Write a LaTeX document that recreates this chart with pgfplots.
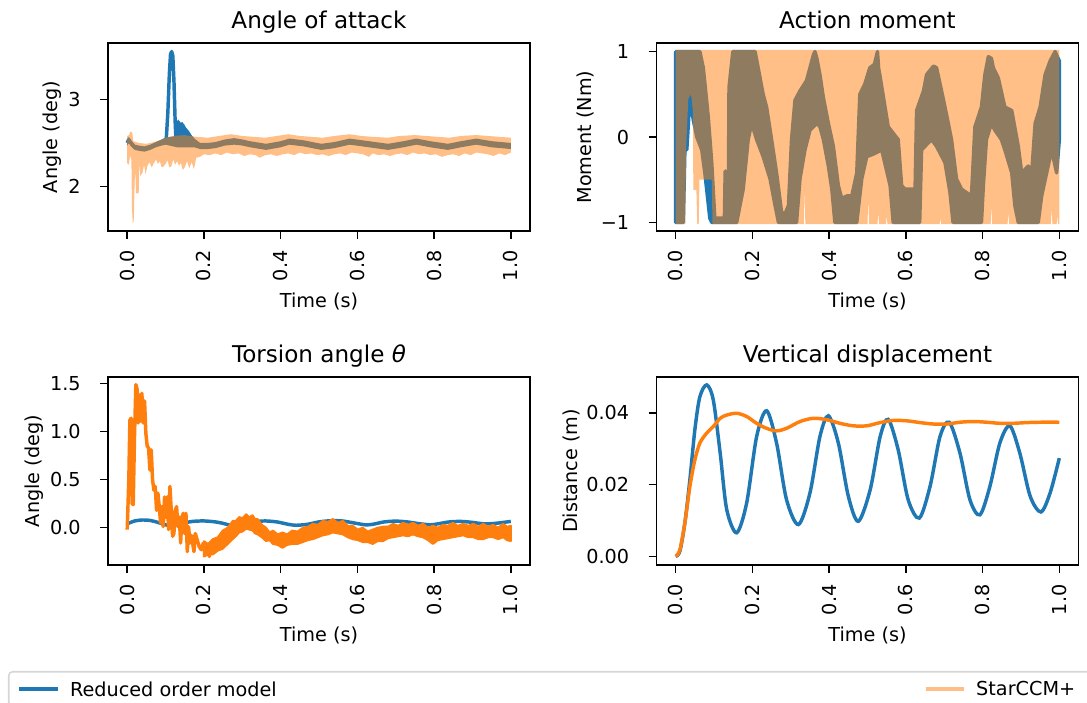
\documentclass[border=0pt]{standalone}
\usepackage{fontspec}
\setmainfont{DejaVu Sans}
\usepackage{pgfplots}
\pgfplotsset{compat=1.18}
\definecolor{mplblue}{RGB}{31,119,180}
\definecolor{mplorange}{RGB}{255,127,14}
\definecolor{legframe}{RGB}{214,214,214}
\pgfplotsset{
  myax/.style={
    scale only axis, width=219.44pt, height=97.76pt,
    anchor=north west,
    xmin=-0.05, xmax=1.05,
    xtick={0,0.2,0.4,0.6,0.8,1.0},
    xticklabels={0.0,0.2,0.4,0.6,0.8,1.0},
    scaled x ticks=false, scaled y ticks=false,
    tick align=outside, tick pos=left,
    major tick length=4pt,
    tick style={black, line width=0.8pt},
    axis line style={line width=0.8pt},
    xticklabel shift=6pt, yticklabel shift=10pt,
    xticklabel style={rotate=90, anchor=east, inner sep=0pt, font=\fontsize{10}{12}\selectfont},
    yticklabel style={anchor=east, inner sep=0pt, font=\fontsize{10}{12}\selectfont},
    title style={at={(0.5,1)}, anchor=base, yshift=1.3pt, font=\fontsize{12}{14}\selectfont},
    xlabel style={at={(axis description cs:0.5,0)}, anchor=base, yshift=-40pt, font=\fontsize{10}{12}\selectfont},
    ylabel style={font=\fontsize{10}{12}\selectfont},
    xlabel={Time (s)},
  }
}
\begin{document}
\begin{tikzpicture}
\useasboundingbox (0,0) rectangle (565.24pt,-365.04pt);
% ---------------- Angle of attack ----------------
\begin{axis}[myax, at={(56.16pt,-22.36pt)},
  ymin=1.488, ymax=3.648, ytick={2,3}, yticklabels={2,3},
  title={Angle of attack}, ylabel={Angle (deg)},
  legend columns=2,
  legend image code/.code={\draw[#1] (0pt,0pt) -- (20pt,0pt);},
  legend cell align=left,
  legend style={at={(-0.23697,-2.3402)}, anchor=north west, draw=legframe, line width=0.8pt,
    fill=white, rounded corners=2pt, inner xsep=4.68pt, inner ysep=5.1pt,
    font=\fontsize{10}{12}\selectfont, nodes={inner sep=0pt, text depth=0pt},
    /tikz/every odd column/.append style={column sep=5.4pt}}]
\addplot[forget plot, draw=none, fill=mplblue] coordinates {
(0,2.53) (0.004,2.57) (0.010,2.53) (0.020,2.48) (0.030,2.47) (0.045,2.46) (0.060,2.48) (0.075,2.51) (0.090,2.54) (0.100,2.56) (0.127,2.58) (0.129,2.73) (0.133,2.77) (0.138,2.73) (0.144,2.74) (0.150,2.69) (0.158,2.65) (0.165,2.60) (0.175,2.55) (0.190,2.50) (0.210,2.50) (0.230,2.51) (0.255,2.54) (0.279,2.555) (0.300,2.54) (0.320,2.52) (0.362,2.49) (0.400,2.52) (0.423,2.55) (0.460,2.53) (0.506,2.49) (0.540,2.51) (0.580,2.55) (0.630,2.52) (0.680,2.49) (0.720,2.52) (0.754,2.55) (0.790,2.52) (0.836,2.49) (0.870,2.52) (0.910,2.55) (0.950,2.52) (1.000,2.50)
(1.000,2.43) (0.950,2.45) (0.910,2.48) (0.870,2.45) (0.836,2.42) (0.790,2.45) (0.754,2.48) (0.720,2.45) (0.680,2.42) (0.630,2.45) (0.580,2.48) (0.540,2.44) (0.506,2.42) (0.460,2.46) (0.423,2.48) (0.400,2.45) (0.362,2.42) (0.320,2.45) (0.300,2.47) (0.279,2.48) (0.255,2.47) (0.230,2.44) (0.210,2.43) (0.190,2.43) (0.175,2.45) (0.150,2.45) (0.130,2.45) (0.100,2.48) (0.090,2.47) (0.075,2.45) (0.060,2.42) (0.045,2.40) (0.030,2.41) (0.020,2.42) (0.010,2.46) (0.004,2.50) (0,2.47)
} -- cycle;
\addplot[forget plot, mplblue, line width=1.8pt, line join=round] coordinates {
(0,2.50) (0.004,2.54) (0.010,2.50) (0.020,2.45) (0.030,2.44) (0.045,2.43) (0.060,2.45) (0.075,2.48) (0.090,2.51) (0.097,2.53) (0.102,2.55) (0.106,2.85) (0.110,3.30) (0.113,3.52) (0.116,3.55) (0.119,3.50) (0.122,3.20) (0.125,2.75) (0.127,2.55) (0.129,2.70) (0.133,2.74) (0.138,2.70) (0.144,2.71) (0.150,2.66) (0.158,2.62) (0.165,2.57) (0.175,2.52) (0.190,2.47) (0.210,2.47) (0.230,2.48) (0.255,2.51) (0.279,2.52) (0.300,2.51) (0.320,2.49) (0.362,2.46) (0.400,2.49) (0.423,2.52) (0.460,2.50) (0.506,2.46) (0.540,2.48) (0.580,2.52) (0.630,2.49) (0.680,2.46) (0.720,2.49) (0.754,2.52) (0.790,2.49) (0.836,2.46) (0.870,2.49) (0.910,2.52) (0.950,2.49) (1.000,2.47)
};
\addplot[forget plot, draw=none, fill=mplorange, fill opacity=0.5] coordinates {
(0,2.58) (0.005,2.59) (0.008,2.63) (0.013,2.62) (0.016,2.52) (0.030,2.50) (0.050,2.49) (0.070,2.51) (0.090,2.54) (0.100,2.56) (0.120,2.58) (0.150,2.59) (0.180,2.57) (0.210,2.56) (0.240,2.58) (0.270,2.60) (0.300,2.58) (0.330,2.57) (0.360,2.56) (0.390,2.58) (0.420,2.60) (0.450,2.58) (0.480,2.57) (0.510,2.56) (0.540,2.58) (0.580,2.60) (0.610,2.58) (0.640,2.57) (0.680,2.56) (0.710,2.58) (0.750,2.59) (0.780,2.58) (0.810,2.57) (0.840,2.56) (0.870,2.58) (0.910,2.59) (0.940,2.58) (0.970,2.57) (1.000,2.56)
(1.000,2.39) (0.985,2.36) (0.970,2.38) (0.955,2.35) (0.940,2.37) (0.925,2.38) (0.910,2.39) (0.895,2.36) (0.880,2.38) (0.865,2.35) (0.850,2.37) (0.835,2.36) (0.820,2.34) (0.805,2.37) (0.790,2.36) (0.775,2.38) (0.760,2.37) (0.745,2.39) (0.730,2.36) (0.715,2.38) (0.700,2.37) (0.685,2.35) (0.670,2.37) (0.655,2.36) (0.640,2.38) (0.630,2.34) (0.615,2.37) (0.600,2.38) (0.585,2.39) (0.570,2.36) (0.555,2.38) (0.540,2.37) (0.525,2.35) (0.510,2.37) (0.495,2.36) (0.480,2.38) (0.465,2.37) (0.450,2.39) (0.435,2.36) (0.420,2.38) (0.405,2.37) (0.390,2.35) (0.375,2.37) (0.360,2.36) (0.345,2.33) (0.335,2.36) (0.320,2.37) (0.305,2.35) (0.290,2.38) (0.275,2.37) (0.260,2.39) (0.245,2.36) (0.230,2.38) (0.215,2.36) (0.200,2.37) (0.190,2.34) (0.180,2.33) (0.174,2.20) (0.168,2.28) (0.162,2.21) (0.156,2.29) (0.150,2.22) (0.145,2.19) (0.140,2.27) (0.135,2.24) (0.130,2.29) (0.125,2.25) (0.120,2.31) (0.115,2.23) (0.110,2.22) (0.105,2.30) (0.100,2.26) (0.095,2.23) (0.090,2.22) (0.085,2.29) (0.080,2.26) (0.075,2.31) (0.070,2.27) (0.064,2.22) (0.058,2.28) (0.053,2.24) (0.048,2.14) (0.044,2.25) (0.040,2.16) (0.034,2.12) (0.032,2.30) (0.030,1.92) (0.023,1.92) (0.021,2.20) (0.0195,2.05) (0.017,1.60) (0.0145,1.58) (0.0125,1.75) (0.011,2.30) (0.008,2.36) (0.004,2.25) (0,2.27)
} -- cycle;
\addlegendimage{mplblue, line width=1.8pt}
\addlegendentry{\makebox[444pt][l]{Reduced order model}}
\addlegendimage{mplorange, opacity=0.5, line width=1.8pt}
\addlegendentry{\makebox[62pt][l]{StarCCM+}}
\end{axis}
% ---------------- Action moment ----------------
\begin{axis}[myax, at={(341.38pt,-22.36pt)},
  ymin=-1.1, ymax=1.1, ytick={-1,0,1}, yticklabels={−1,0,1},
  title={Action moment}, ylabel={Moment (Nm)}]
\addplot[draw=mplblue, fill=mplblue, line width=1.8pt, line join=round] coordinates {
(0,1.0) (0.063,1.0) (0.072,0.81) (0.085,0.23) (0.094,-0.30) (0.102,-0.95) (0.118,-0.95) (0.127,-0.95) (0.129,-0.40) (0.131,-0.40) (0.133,-0.95) (0.137,-0.95) (0.139,0.58) (0.149,1.0) (0.207,1.0) (0.215,0.81) (0.228,0.50) (0.237,0.35) (0.250,-0.03) (0.263,-0.42) (0.276,-0.88) (0.285,-0.90) (0.294,-0.80) (0.302,-0.03) (0.311,0.43) (0.324,0.54) (0.341,0.66) (0.359,0.96) (0.363,1.0) (0.368,0.92) (0.376,0.73) (0.385,0.46) (0.398,0.16) (0.411,-0.11) (0.424,-0.57) (0.433,-0.72) (0.446,-0.69) (0.459,-0.69) (0.472,-0.42) (0.480,0.50) (0.493,0.62) (0.506,0.81) (0.518,0.85) (0.526,1.0) (0.529,0.80) (0.532,0.73) (0.554,0.12) (0.580,-0.03) (0.589,-0.57) (0.598,-0.61) (0.624,-0.61) (0.628,0.31) (0.646,0.54) (0.654,0.73) (0.672,0.83) (0.680,0.81) (0.693,0.54) (0.702,0.35) (0.719,-0.03) (0.732,-0.49) (0.745,-0.61) (0.771,-0.69) (0.780,0.12) (0.797,0.35) (0.806,0.73) (0.815,0.94) (0.823,0.92) (0.828,0.81) (0.841,0.69) (0.858,0.35) (0.876,0.31) (0.893,-0.11) (0.902,-0.42) (0.919,-0.34) (0.928,-0.42) (0.937,0.16) (0.950,0.35) (0.963,0.73) (0.976,0.89) (0.989,1.0) (1.0,0.89)
(1.0,-0.03) (0.993,-0.42) (0.980,-0.15) (0.967,-0.42) (0.954,-0.69) (0.945,-1) (0.893,-1) (0.884,-0.80) (0.876,-0.42) (0.858,-0.15) (0.849,-0.03) (0.832,0.08) (0.823,0.16) (0.810,-0.03) (0.802,-0.57) (0.797,-1) (0.723,-1) (0.715,-0.65) (0.702,-0.30) (0.680,-0.11) (0.667,-0.03) (0.641,-0.15) (0.636,-1) (0.567,-1) (0.559,-0.57) (0.537,-0.15) (0.515,-0.20) (0.498,-0.23) (0.485,-0.49) (0.472,-1) (0.415,-1) (0.407,-0.61) (0.398,-0.34) (0.385,-0.03) (0.376,0.12) (0.368,0.16) (0.350,0.08) (0.337,-0.15) (0.324,-0.49) (0.315,-1) (0.268,-1) (0.259,-0.80) (0.246,-0.49) (0.228,-0.23) (0.211,-0.03) (0.198,0.16) (0.189,-0.03) (0.176,-0.61) (0.159,-1) (0.094,-1) (0.089,-0.95) (0.076,-0.42) (0.068,-0.15) (0.055,0.0) (0.046,0.2) (0.037,0.45) (0.029,-0.15) (0.024,-0.15) (0.020,-1) (0,-1)
} -- cycle;
\addplot[draw=none, fill=mplorange, fill opacity=0.5] coordinates {
(0,1.02) (1.0,1.02)
(1.0,-1.02) (0.997,-1.02) (0.995,-0.92) (0.993,-1.02) (0.982,-1.02) (0.980,-0.83) (0.978,-1.02) (0.869,-1.02) (0.867,-0.88) (0.865,-1.02) (0.825,-1.02) (0.823,-0.80) (0.821,-1.02) (0.692,-1.02) (0.690,-0.95) (0.688,-1.02) (0.552,-1.02) (0.550,-0.92) (0.548,-1.02) (0.530,-1.02) (0.528,-0.88) (0.526,-1.02) (0.504,-1.02) (0.502,-0.70) (0.500,-1.02) (0.338,-1.02) (0.336,-0.60) (0.334,-1.02) (0.096,-1.02) (0.094,-0.50) (0.062,-0.50) (0.060,-1.02) (0.056,-1.02) (0.054,-0.62) (0.046,-0.62) (0.045,0.30) (0.040,0.50) (0.033,0.45) (0.027,-0.15) (0.025,-1.02) (0,-1.02)
} -- cycle;
\end{axis}
% ---------------- Torsion angle ----------------
\begin{axis}[myax, at={(56.16pt,-196.04pt)},
  ymin=-0.389, ymax=1.569, ytick={0,0.5,1,1.5}, yticklabels={0.0,0.5,1.0,1.5},
  title={Torsion angle {\itshape θ}}, ylabel={Angle (deg)}]
\addplot[mplblue, line width=1.8pt, smooth] coordinates {
(0,0.04) (0.02,0.07) (0.04,0.08) (0.06,0.075) (0.08,0.055) (0.10,0.03) (0.115,0.02) (0.13,0.03) (0.15,0.05) (0.17,0.065) (0.20,0.07) (0.23,0.06) (0.25,0.045) (0.27,0.025) (0.29,0.03) (0.31,0.05) (0.34,0.065) (0.36,0.07) (0.39,0.06) (0.42,0.035) (0.44,0.025) (0.47,0.035) (0.50,0.06) (0.53,0.072) (0.56,0.07) (0.59,0.05) (0.62,0.03) (0.64,0.035) (0.67,0.06) (0.70,0.068) (0.73,0.06) (0.76,0.042) (0.79,0.03) (0.81,0.04) (0.84,0.06) (0.87,0.065) (0.90,0.055) (0.93,0.04) (0.96,0.045) (1.0,0.065)
};
\addplot[mplorange, line width=1.8pt, line join=round] coordinates {
(0,-0.02) (0.0017,0.18) (0.0044,0.53) (0.007,1.12) (0.0104,1.14) (0.013,0.25) (0.0157,0.24) (0.0191,0.95) (0.0226,1.49) (0.0261,1.44) (0.0287,1.09) (0.0322,1.38) (0.0348,1.11) (0.0383,1.40) (0.0418,1.09) (0.0453,1.32) (0.0487,0.98) (0.0522,0.85) (0.0557,0.83) (0.0592,0.60) (0.0627,0.81) (0.0661,0.50) (0.0696,0.39) (0.0731,0.43) (0.0766,0.18) (0.0801,0.36) (0.0836,0.22) (0.0870,0.05) (0.0905,0.22) (0.0940,0.01) (0.0975,0.32) (0.1010,0.11) (0.1044,0.32) (0.1079,-0.02) (0.1114,0.43) (0.1149,0.18) (0.1184,-0.09) (0.1218,-0.06) (0.1253,0.18) (0.1288,0.22) (0.1323,0.01) (0.1358,0.11) (0.1393,-0.16) (0.1427,0.11) (0.1462,0.15) (0.1497,-0.06) (0.1532,0.15) (0.1567,-0.25) (0.1601,0.01) (0.1636,-0.16) (0.1671,-0.08) (0.1706,-0.16) (0.1741,-0.25) (0.1775,-0.06) (0.1828,-0.13) (0.1880,-0.20) (0.1932,-0.23) (0.1984,-0.16) (0.2037,-0.29) (0.2089,-0.18) (0.2141,-0.30) (0.2193,-0.20) (0.2263,-0.23)
};
\addplot[draw=mplorange, fill=mplorange, line width=1pt, line join=round] coordinates {
(0.200,-0.14) (0.211,-0.17) (0.223,-0.12) (0.236,-0.10) (0.249,-0.03) (0.262,0.00) (0.275,0.07) (0.283,0.07) (0.292,0.11) (0.301,0.10) (0.310,0.14) (0.318,0.11) (0.327,0.13) (0.333,0.09) (0.340,0.09) (0.351,0.03) (0.362,0.00) (0.371,-0.05) (0.380,-0.03) (0.392,-0.07) (0.405,-0.05) (0.417,-0.07) (0.430,-0.03) (0.444,-0.04) (0.458,0.00) (0.471,0.01) (0.484,0.04) (0.497,0.03) (0.510,0.07) (0.523,0.06) (0.536,0.09) (0.549,0.05) (0.562,0.07) (0.575,0.02) (0.588,0.02) (0.601,-0.02) (0.614,0.00) (0.627,-0.04) (0.640,-0.02) (0.653,0.00) (0.667,0.01) (0.680,0.01) (0.693,0.04) (0.706,0.02) (0.719,0.05) (0.732,0.03) (0.745,0.05) (0.758,0.02) (0.771,0.04) (0.784,0.00) (0.797,0.02) (0.810,0.00) (0.823,0.03) (0.836,0.02) (0.849,0.05) (0.862,0.02) (0.876,0.04) (0.889,0.02) (0.902,0.04) (0.915,0.01) (0.928,0.04) (0.941,0.01) (0.954,0.03) (0.967,0.00) (0.980,0.04) (0.990,0.01) (1.000,0.02)
(1.000,-0.14) (0.990,-0.13) (0.980,-0.10) (0.967,-0.12) (0.954,-0.10) (0.941,-0.10) (0.928,-0.12) (0.915,-0.12) (0.902,-0.10) (0.889,-0.10) (0.876,-0.08) (0.862,-0.09) (0.849,-0.10) (0.836,-0.11) (0.823,-0.12) (0.810,-0.13) (0.797,-0.17) (0.784,-0.13) (0.771,-0.10) (0.758,-0.09) (0.745,-0.07) (0.732,-0.09) (0.719,-0.08) (0.706,-0.09) (0.693,-0.10) (0.680,-0.11) (0.667,-0.14) (0.653,-0.14) (0.640,-0.17) (0.627,-0.15) (0.614,-0.15) (0.601,-0.13) (0.588,-0.12) (0.575,-0.10) (0.562,-0.07) (0.549,-0.06) (0.536,-0.05) (0.523,-0.07) (0.510,-0.08) (0.497,-0.10) (0.484,-0.12) (0.471,-0.13) (0.458,-0.15) (0.444,-0.17) (0.430,-0.17) (0.417,-0.18) (0.405,-0.21) (0.392,-0.18) (0.380,-0.17) (0.371,-0.13) (0.362,-0.14) (0.351,-0.10) (0.340,-0.07) (0.333,-0.06) (0.327,-0.03) (0.318,-0.02) (0.310,-0.01) (0.301,-0.04) (0.292,-0.05) (0.283,-0.09) (0.275,-0.12) (0.262,-0.17) (0.249,-0.22) (0.236,-0.24) (0.223,-0.28) (0.211,-0.27) (0.200,-0.30)
} -- cycle;
\end{axis}
% ---------------- Vertical displacement ----------------
\begin{axis}[myax, at={(341.38pt,-196.04pt)},
  ymin=-0.00238, ymax=0.05, ytick={0,0.02,0.04}, yticklabels={0.00,0.02,0.04},
  title={Vertical displacement}, ylabel={Distance (m)}]
\addplot[mplblue, line width=1.8pt, smooth] coordinates {
(0,0) (0.011,0.0015) (0.024,0.0094) (0.037,0.0214) (0.050,0.0353) (0.063,0.0445) (0.081,0.0478) (0.098,0.0436) (0.116,0.0288) (0.133,0.0131) (0.159,0.0066) (0.185,0.0149) (0.211,0.0334) (0.237,0.0406) (0.263,0.0316) (0.289,0.0158) (0.320,0.0089) (0.350,0.0177) (0.376,0.0334) (0.398,0.0392) (0.424,0.0316) (0.450,0.0168) (0.476,0.0098) (0.507,0.0186) (0.533,0.0334) (0.554,0.0382) (0.580,0.0297) (0.606,0.0158) (0.635,0.0107) (0.663,0.0195) (0.689,0.0334) (0.713,0.0374) (0.741,0.0288) (0.767,0.0158) (0.793,0.0116) (0.819,0.0195) (0.845,0.0316) (0.871,0.0364) (0.897,0.0288) (0.924,0.0168) (0.952,0.0124) (0.976,0.0177) (1.0,0.0274)
};
\addplot[mplorange, line width=1.8pt, smooth] coordinates {
(0,0) (0.011,0.0019) (0.024,0.0094) (0.037,0.0195) (0.050,0.0269) (0.063,0.0316) (0.081,0.0344) (0.098,0.0362) (0.116,0.0385) (0.133,0.0394) (0.159,0.0399) (0.185,0.0390) (0.211,0.0371) (0.237,0.0357) (0.263,0.0350) (0.289,0.0357) (0.324,0.0376) (0.359,0.0385) (0.394,0.0381) (0.428,0.0371) (0.463,0.0364) (0.498,0.0364) (0.533,0.0373) (0.567,0.0379) (0.602,0.0378) (0.637,0.0373) (0.672,0.0369) (0.706,0.0369) (0.741,0.0374) (0.776,0.0376) (0.811,0.0374) (0.845,0.0371) (0.880,0.0371) (0.915,0.0373) (0.950,0.0374) (1.0,0.0374)
};
\end{axis}
\end{tikzpicture}
\end{document}
